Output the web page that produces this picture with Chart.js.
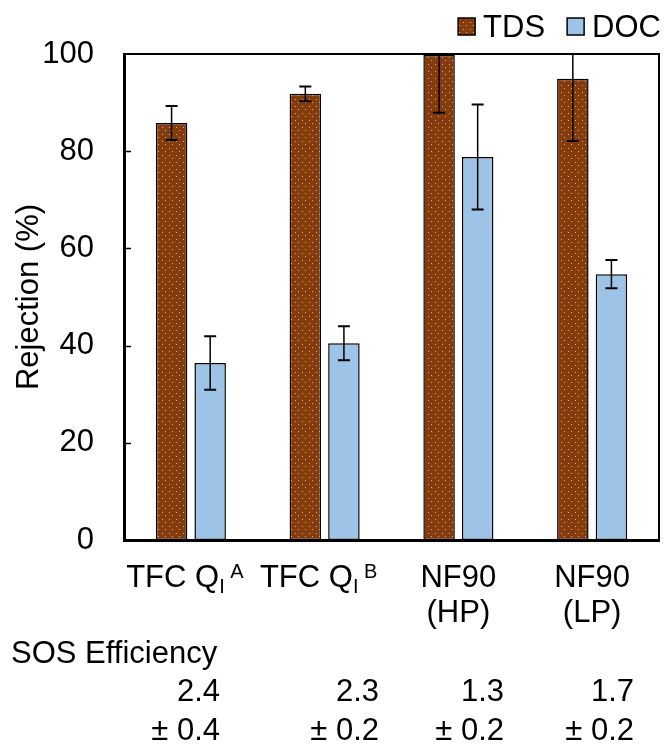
<!DOCTYPE html>
<html>
<head>
<meta charset="utf-8">
<script src="https://cdn.jsdelivr.net/npm/chart.js@4.4.1/dist/chart.umd.min.js"></script>
<style>
  html, body { margin: 0; padding: 0; background: #fff; }
</style>
</head>
<body>
<canvas id="chart" width="667" height="744"></canvas>
<script>
const categories = ['TFC QI A', 'TFC QI B', 'NF90 (HP)', 'NF90 (LP)'];
const labelMain = ['TFC Q', 'TFC Q', 'NF90', 'NF90'];
const labelSub = ['I', 'I', '', ''];
const labelSup = ['A', 'B', '', ''];
const labelLine2 = ['', '', '(HP)', '(LP)'];

const tdsValues = [85.8, 91.8, 99.8, 94.9];
const tdsErrors = [3.5, 1.5, 11.9, 12.8];
const docValues = [36.4, 40.5, 78.8, 54.7];
const docErrors = [5.5, 3.5, 10.8, 2.9];

const yTicks = [0, 20, 40, 60, 80, 100];

const sosTitle = 'SOS Efficiency';
const sosValues = ['2.4', '2.3', '1.3', '1.7'];
const sosErrors = ['0.4', '0.2', '0.2', '0.2'];

const FONT = '"Liberation Sans", Arial, sans-serif';
const TDS_BROWN = '#843C0C';
const DOC_BLUE = '#9DC3E6';

function dotPattern() {
  const c = document.createElement('canvas');
  c.width = 7; c.height = 7;
  const g = c.getContext('2d');
  g.fillStyle = TDS_BROWN;
  g.fillRect(0, 0, 7, 7);
  g.fillStyle = '#E0A882';
  g.fillRect(1, 1, 1, 1);
  g.fillRect(4, 4, 1, 1);
  return g.createPattern(c, 'repeat');
}
const tdsFill = dotPattern();

// error bars, inner y ticks and the plot frame
const errorBars = {
  id: 'errorBars',
  afterDatasetsDraw(chart) {
    const { ctx, chartArea: a, scales: { y } } = chart;
    ctx.save();
    ctx.beginPath();
    ctx.rect(a.left, a.top, a.right - a.left, a.bottom - a.top);
    ctx.clip();
    ctx.strokeStyle = '#000';
    chart.data.datasets.forEach((ds, di) => {
      chart.getDatasetMeta(di).data.forEach((bar, i) => {
        const v = ds.data[i], e = ds.errors[i];
        const hi = y.getPixelForValue(v + e), lo = y.getPixelForValue(v - e);
        ctx.lineWidth = 1.5;
        ctx.beginPath();
        ctx.moveTo(bar.x, hi); ctx.lineTo(bar.x, lo);
        ctx.stroke();
        ctx.lineWidth = 2;
        ctx.beginPath();
        ctx.moveTo(bar.x - 6, hi); ctx.lineTo(bar.x + 6, hi);
        ctx.moveTo(bar.x - 6, lo); ctx.lineTo(bar.x + 6, lo);
        ctx.stroke();
      });
    });
    ctx.restore();

    ctx.save();
    ctx.strokeStyle = '#000';
    ctx.lineWidth = 2;
    ctx.beginPath();
    ctx.moveTo(a.left, a.top); ctx.lineTo(a.right, a.top); ctx.lineTo(a.right, a.bottom);
    ctx.stroke();
    y.ticks.forEach(t => {
      const py = Math.round(y.getPixelForValue(t.value)) + 0.5;
      if (t.value === 0 || t.value === 100) return;
      ctx.lineWidth = 1.5;
      ctx.beginPath();
      ctx.moveTo(a.left, py); ctx.lineTo(a.left + 7, py);
      ctx.stroke();
    });
    ctx.restore();
  }
};

// category labels with sub/superscripts, legend and the SOS table
const extraText = {
  id: 'extraText',
  afterDraw(chart) {
    const { ctx, chartArea: a, scales: { x } } = chart;
    ctx.save();
    ctx.fillStyle = '#000';
    ctx.textBaseline = 'alphabetic';
    const big = '31px ' + FONT, small = '20px ' + FONT;

    categories.forEach((c, i) => {
      const cx = x.getPixelForValue(i);
      ctx.font = big;
      const wMain = ctx.measureText(labelMain[i]).width;
      ctx.font = small;
      const wSub = ctx.measureText(labelSub[i]).width;
      const wGap = labelSup[i] ? ctx.measureText(' ').width : 0;
      const wSup = ctx.measureText(labelSup[i]).width;
      let sx = cx - (wMain + wSub + wGap + wSup) / 2 - (labelSup[i] ? 6 : 0);
      ctx.textAlign = 'left';
      ctx.font = big;
      ctx.fillText(labelMain[i], sx, 587);
      sx += wMain;
      ctx.font = small;
      ctx.fillText(labelSub[i], sx, 593);
      sx += wSub + wGap;
      ctx.fillText(labelSup[i], sx, 578);
      if (labelLine2[i]) {
        ctx.font = big;
        ctx.textAlign = 'center';
        ctx.fillText(labelLine2[i], cx, 622);
      }
    });

    // legend, right aligned to the frame
    ctx.font = big;
    const items = chart.data.datasets.map(d => ({ label: d.label, fill: d.backgroundColor, w: ctx.measureText(d.label).width }));
    const box = 17, gap = 8, between = 22;
    let lx = a.right + 2;
    for (let k = items.length - 1; k >= 0; k--) {
      lx -= items[k].w + gap + box;
      items[k].x = lx;
      lx -= between;
    }
    items.forEach(it => {
      ctx.fillStyle = it.fill;
      ctx.fillRect(it.x, 18, box, box);
      ctx.strokeStyle = '#000';
      ctx.lineWidth = 1.5;
      ctx.strokeRect(it.x, 18, box, box);
      ctx.fillStyle = '#000';
      ctx.textAlign = 'left';
      ctx.fillText(it.label, it.x + box + gap, 37);
    });

    // SOS efficiency rows
    ctx.fillStyle = '#000';
    ctx.textAlign = 'left';
    ctx.fillText(sosTitle, 11, 663);
    const sosRight = [220, 379, 504, 634];
    ctx.textAlign = 'right';
    sosValues.forEach((v, i) => {
      ctx.fillText(v, sosRight[i], 701);
      ctx.fillText('\u00B1 ' + sosErrors[i], sosRight[i], 740);
    });
    ctx.restore();
  }
};

new Chart(document.getElementById('chart').getContext('2d'), {
  type: 'bar',
  data: {
    labels: categories,
    datasets: [
      { label: 'TDS', data: tdsValues, errors: tdsErrors, backgroundColor: tdsFill,
        borderColor: '#000', borderWidth: 1.5, borderSkipped: false },
      { label: 'DOC', data: docValues, errors: docErrors, backgroundColor: DOC_BLUE,
        borderColor: '#000', borderWidth: 1.5, borderSkipped: false }
    ]
  },
  options: {
    responsive: false,
    animation: false,
    layout: { padding: { top: 54, right: 8, bottom: 0, left: 0 } },
    datasets: { bar: { categoryPercentage: 0.577, barPercentage: 0.816 } },
    plugins: { legend: { display: false }, tooltip: { enabled: false } },
    scales: {
      x: {
        grid: { display: false },
        border: { display: true, color: '#000', width: 3 },
        ticks: { display: false },
        afterFit(s) { s.height = 204; s.paddingLeft = 0; s.paddingRight = 0; }
      },
      y: {
        min: 0,
        max: 100,
        afterBuildTicks(s) { s.ticks = yTicks.map(v => ({ value: v })); },
        grid: { display: false },
        border: { display: true, color: '#000', width: 3 },
        ticks: { color: '#000', font: { size: 31, family: FONT }, padding: 22 },
        title: { display: true, text: 'Rejection (%)', color: '#000',
                 font: { size: 31, family: FONT }, padding: { top: 11, bottom: 0 } },
        afterFit(s) { s.width = 124; s.paddingTop = 0; s.paddingBottom = 0; }
      }
    }
  },
  plugins: [errorBars, extraText]
});
</script>
</body>
</html>
